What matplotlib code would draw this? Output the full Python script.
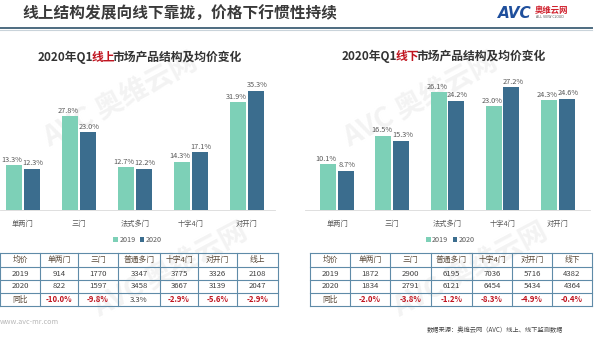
import numpy as np
import matplotlib
matplotlib.use("Agg")
import matplotlib.pyplot as plt

plt.rcParams['font.family'] = ['Noto Sans CJK SC', 'DejaVu Sans']

# ---- data ----
categories = ["单两门", "三门", "法式多门", "十字4门", "对开门"]
online_2019 = [13.3, 27.8, 12.7, 14.3, 31.9]
online_2020 = [12.3, 23.0, 12.2, 17.1, 35.3]
offline_2019 = [10.1, 16.5, 26.1, 23.0, 24.3]
offline_2020 = [8.7, 15.3, 24.2, 27.2, 24.6]

online_header = ["均价", "单两门", "三门", "普通多门", "十字4门", "对开门", "线上"]
online_price_2019 = ["914", "1770", "3347", "3775", "3326", "2108"]
online_price_2020 = ["822", "1597", "3458", "3667", "3139", "2047"]
online_yoy = ["-10.0%", "-9.8%", "3.3%", "-2.9%", "-5.6%", "-2.9%"]

offline_header = ["均价", "单两门", "三门", "普通多门", "十字4门", "对开门", "线下"]
offline_price_2019 = ["1872", "2900", "6195", "7036", "5716", "4382"]
offline_price_2020 = ["1834", "2791", "6121", "6454", "5434", "4364"]
offline_yoy = ["-2.0%", "-3.8%", "-1.2%", "-8.3%", "-4.9%", "-0.4%"]

C19 = "#7dd0b7"
C20 = "#3b6d8e"
GREY = "#595959"
RED = "#c0141f"
BORDER = "#5f8ba8"

W, H = 600, 339
fig = plt.figure(figsize=(6, 3.39), dpi=100)


def px_axes(x0, y0, x1, y1):
    # pixel box (top-left origin) -> figure axes
    return fig.add_axes([x0 / W, 1 - y1 / H, (x1 - x0) / W, (y1 - y0) / H])


# overlay axes in pixel coordinates for titles, tables, decorations
ov = fig.add_axes([0, 0, 1, 1])
ov.set_xlim(0, W)
ov.set_ylim(H, 0)
ov.axis("off")

# faint watermarks
for (wx, wy) in [(120, 100), (420, 100), (170, 270), (470, 270)]:
    ov.text(wx, wy, "AVC 奥维云网", fontsize=20, color="#f3f3f3", rotation=28,
            ha="center", va="center", fontweight="bold", zorder=0)

# header
ov.text(22, 14, "线上结构发展向线下靠拢，价格下行惯性持续", fontsize=11.3, fontweight="bold",
        color="#3a3a3a", ha="left", va="center")
ov.plot([0, 592], [28, 28], color="#4d6b80", lw=1.4)
ov.plot([0, 592], [29.5, 29.5], color="#c9d3da", lw=0.8)
ov.text(498, 13, "AVC", fontsize=11, fontweight="bold", fontstyle="italic",
        color="#1f4f9c", ha="left", va="center", family="DejaVu Sans")
ov.text(535, 10, "奥维云网", fontsize=6, fontweight="bold", color="#d0202c",
        ha="left", va="center")
ov.text(536, 16.5, "ALL VIEW CLOUD", fontsize=2.3, color="#555555",
        ha="left", va="center", family="DejaVu Sans")


def chart_title(x, y, parts):
    prev = None
    for txt, col in parts:
        if prev is None:
            prev = ov.text(x, y, txt, fontsize=8.5, fontweight="bold", color=col,
                           ha="left", va="baseline")
        else:
            prev = ov.annotate(txt, xy=(1, 0), xycoords=prev, xytext=(-1.5, 0),
                               textcoords="offset points", fontsize=8.5,
                               fontweight="bold", color=col, ha="left", va="bottom")


chart_title(38, 61, [("2020年Q1", "#333333"), ("线上", RED), ("市场产品结构及均价变化", "#333333")])
chart_title(342, 60, [("2020年Q1", "#333333"), ("线下", RED), ("市场产品结构及均价变化", "#333333")])


def draw_bars(ax, v19, v20, ymax, xlim, leg_x):
    x = np.arange(len(categories))
    ax.bar(x - 0.16, v19, 0.29, color=C19, label="2019")
    ax.bar(x + 0.16, v20, 0.29, color=C20, label="2020")
    # 2019 labels nudged left, 2020 labels nudged right (as in the source)
    for xs, vals, dx in [(x - 0.16, v19, -1.3), (x + 0.16, v20, 1.0)]:
        for xi, v in zip(xs, vals):
            ax.annotate(f"{v:.1f}%", (xi, v), xytext=(dx, 1.2), textcoords="offset points",
                        ha="center", va="bottom", fontsize=5.3, color=GREY)
    ax.set_xlim(*xlim)
    ax.set_ylim(0, ymax)
    ax.set_xticks(x, categories)
    ax.tick_params(axis="x", length=0, labelsize=5.2, labelcolor=GREY, pad=7)
    ax.set_yticks([])
    for s in ["top", "left", "right"]:
        ax.spines[s].set_visible(False)
    ax.spines["bottom"].set_color("#d9d9d9")
    ax.spines["bottom"].set_linewidth(0.6)
    ax.patch.set_alpha(0)
    ax.legend(loc="center", bbox_to_anchor=(leg_x, -0.214), ncol=2, frameon=False,
              fontsize=5.2, handlelength=0.6, handleheight=0.6, handletextpad=0.2,
              columnspacing=0.6, labelcolor=GREY)


ax1 = px_axes(0, 70, 275, 210)
draw_bars(ax1, online_2019, online_2020, 140 / 3.37, (-0.41, -0.41 + 275 / 56), 0.5)

ax2 = px_axes(305, 70, 590, 210)
draw_bars(ax2, offline_2019, offline_2020, 140 / 4.51, (-0.58, -0.58 + 285 / 55.2), 0.51)


def draw_table(cols_x, rows_y, header, r19, r20, yoy):
    x0, x1 = cols_x[0], cols_x[-1]
    for y in rows_y:
        ov.plot([x0, x1], [y, y], color=BORDER, lw=0.8)
    for x in cols_x:
        ov.plot([x, x], [rows_y[0], rows_y[-1]], color=BORDER, lw=0.8)
    rows = [header, ["2019"] + r19, ["2020"] + r20, ["同比"] + yoy]
    for r, row in enumerate(rows):
        yc = (rows_y[r] + rows_y[r + 1]) / 2
        for c, val in enumerate(row):
            xc = (cols_x[c] + cols_x[c + 1]) / 2
            color = "#404040"
            weight = "normal"
            if r == 3 and c > 0 and val.startswith("-"):
                color = RED
                weight = "bold"
            if r == 0 or (r == 3 and c == 0):
                color = "#5a4a3a"
            ov.text(xc, yc, val, fontsize=5.6, color=color, fontweight=weight,
                    ha="center", va="center")


rows_y = [253, 267, 280, 293, 306]
draw_table([0, 40, 78, 118, 160, 198, 237, 278], rows_y, online_header,
           online_price_2019, online_price_2020, online_yoy)
draw_table([310, 350, 390, 431, 472, 512, 552, 592], rows_y, offline_header,
           offline_price_2019, offline_price_2020, offline_yoy)

# footer
ov.text(0, 322, "www.avc-mr.com", fontsize=5.2, color="#b8b8b8", ha="left", va="center")
ov.text(563, 330, "数据来源：奥维云网（AVC）线上、线下监测数据", fontsize=4.5, color="#444444",
        ha="right", va="center")

fig.savefig("out.png", dpi=100)
